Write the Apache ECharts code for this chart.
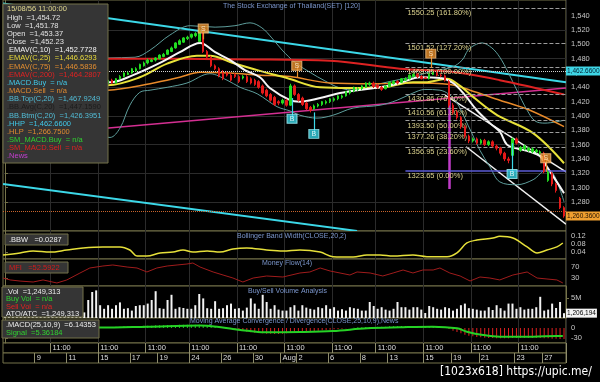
<!DOCTYPE html>
<html><head><meta charset="utf-8">
<script src="https://cdn.jsdelivr.net/npm/echarts@6/dist/echarts.min.js"></script>
<style>html,body{margin:0;padding:0;background:#000;}#c{width:600px;height:382px;}</style>
</head><body><div id="c"></div>
<script>
// ---------------- DATA ----------------
const N = 142;
// [open, close, low, high]
const candles = [
[1448,1445,1444,1449],[1445,1448,1444,1449],[1448,1446,1445,1449],[1446,1450,1445,1451],[1450,1452,1449,1453],
[1452,1449,1448,1453],[1449,1447,1446,1450],[1447,1451,1446,1452],[1451,1454,1450,1455],[1454,1452,1451,1455],
[1452,1450,1449,1453],[1450,1448,1447,1451],[1448,1446,1445,1449],[1446,1444,1443,1447],[1444,1447,1443,1448],
[1447,1449,1446,1450],[1449,1452,1448,1453],[1452,1450,1449,1453],[1450,1448,1447,1451],[1448,1445,1444,1449],
[1445,1443,1442,1446],[1443,1446,1442,1447],[1446,1448,1445,1449],[1448,1450,1447,1451],[1450,1447,1446,1451],
[1447,1445,1444,1448],[1445,1450,1444,1451],[1450,1446,1445,1452],[1446,1452,1445,1453],[1452,1455,1451,1457],
[1455,1460,1454,1461],[1458,1460,1457,1462],[1460,1466,1459,1467],[1463,1466,1462,1468],[1466,1472,1465,1473],
[1470,1474,1469,1476],[1474,1478,1472,1480],[1476,1478,1475,1480],[1478,1481,1476,1482],[1480,1485,1479,1486],
[1483,1486,1482,1488],[1486,1492,1485,1493],[1490,1495,1489,1497],[1495,1502,1494,1503],[1500,1505,1499,1507],
[1503,1509,1502,1510],[1508,1510,1506,1512],[1510,1514,1508,1515],[1512,1515,1510,1517],[1504,1518,1503,1523],
[1516,1490,1488,1518],[1490,1482,1480,1492],[1482,1470,1468,1484],[1470,1466,1464,1472],[1466,1456,1454,1468],
[1460,1452,1450,1464],[1460,1457,1455,1462],[1457,1450,1448,1460],[1458,1455,1453,1460],[1455,1448,1446,1457],
[1453,1455,1451,1457],[1455,1448,1446,1457],[1452,1446,1444,1454],[1450,1444,1442,1452],[1448,1440,1438,1450],
[1442,1432,1430,1444],[1436,1428,1426,1438],[1430,1422,1420,1432],[1426,1416,1414,1428],[1420,1418,1415,1422],
[1418,1422,1416,1424],[1422,1415,1413,1424],[1415,1442,1414,1445],[1442,1430,1428,1444],[1430,1422,1420,1432],
[1425,1416,1414,1427],[1418,1410,1408,1420],[1412,1408,1405,1414],[1410,1414,1408,1416],[1414,1416,1412,1418],
[1416,1420,1414,1421],[1418,1420,1416,1422],[1420,1424,1418,1425],[1422,1424,1420,1426],[1424,1428,1422,1429],
[1426,1428,1424,1430],[1428,1434,1427,1435],[1432,1435,1430,1437],[1435,1440,1433,1441],[1437,1438,1435,1440],
[1438,1442,1436,1443],[1440,1446,1439,1447],[1444,1446,1442,1448],[1446,1441,1439,1448],[1443,1440,1438,1445],
[1440,1437,1435,1442],[1438,1442,1437,1443],[1441,1447,1440,1448],[1445,1448,1444,1450],[1448,1446,1444,1450],
[1447,1452,1446,1453],[1450,1452,1449,1454],[1452,1457,1451,1458],[1455,1458,1454,1460],[1458,1455,1453,1460],
[1455,1452,1451,1457],[1453.37,1452.23,1451.78,1454.72],[1452,1458,1451,1460],[1458,1460,1457,1462],[1460,1457,1455,1462],
[1457,1456,1454,1459],[1456,1450,1448,1458],[1448,1415,1412,1450],[1415,1405,1402,1418],[1405,1398,1395,1408],
[1398,1385,1382,1400],[1385,1372,1369,1387],[1372,1365,1362,1374],[1365,1368,1363,1370],[1368,1362,1360,1370],
[1362,1366,1360,1368],[1366,1360,1358,1368],[1360,1364,1358,1366],[1364,1358,1356,1366],[1358,1355,1352,1360],
[1355,1348,1345,1357],[1348,1340,1337,1350],[1340,1338,1334,1343],[1345,1368,1343,1370],[1368,1362,1360,1370],
[1352,1356,1350,1358],[1354,1358,1352,1360],[1352,1355,1350,1357],[1350,1354,1348,1356],[1350,1352,1348,1354],
[1348,1350,1346,1352],[1348,1322,1320,1350],[1310,1322,1308,1324],[1320,1305,1302,1322],[1305,1296,1293,1307],
[1285,1272,1270,1287],[1272,1260.36,1258,1274]
];
// indicator lines: [barIndex, value]
const ema10 = [[-0.5,1449],[12,1450],[26.5,1447],[32.3,1457],[39.1,1474],[44.1,1489],[49.2,1502],[53,1489],[56.8,1478],[60.5,1464],[64.3,1454],[66.8,1439],[71.9,1422],[74.4,1420],[79.5,1425],[84.5,1432],[88.8,1436],[94.6,1440],[99.6,1446],[104.7,1454],[109.7,1453],[113,1446],[116,1429],[119,1408],[122.3,1390],[124.8,1378],[126.6,1360],[129,1355],[132.4,1350],[134.9,1344],[136.7,1329],[140,1301],[141,1292]];
const ema25 = [[-0.5,1442],[13,1443],[26,1443],[34,1454],[40.9,1473],[48.4,1484],[51.7,1484],[57.5,1474],[64.3,1463],[71.1,1453],[79.5,1440],[87,1439],[95.3,1440],[102.9,1447],[106,1447],[111.5,1452],[114.8,1442],[118,1427],[121.6,1411],[124.8,1399],[133.2,1376],[141,1334]];
const ema75 = [[-0.5,1434],[26,1436],[36.6,1445],[44.1,1454],[49.2,1461],[56.8,1460],[64.3,1457],[71.9,1455],[82,1446],[92.1,1445],[102.1,1446],[112.2,1444],[117.3,1436],[124.8,1422],[132.4,1408],[141,1385]];
const ema200 = [[-0.5,1480],[26,1480],[61.8,1479],[82,1477],[99.6,1466],[112.2,1462],[124.8,1450],[141,1430]];
const bbTop = [[-0.5,1470],[13,1475],[26,1481],[32.8,1482],[36.6,1492],[41.6,1513],[46.7,1526],[53,1524],[58,1526],[61.8,1530],[64.8,1523],[67.3,1509],[69.9,1492],[73.1,1475],[76.9,1461],[80.7,1449],[84.5,1439],[88.3,1436],[95.3,1446],[103.9,1456],[107.9,1463],[112.7,1468],[115.3,1478],[116.8,1492],[118.5,1499],[120.3,1502],[122.8,1495],[124.8,1482],[126.9,1461],[129.1,1436],[131.7,1408],[133.7,1393],[136.2,1390],[141,1394]];
const bbBtm = [[-0.5,1420],[13,1415],[26.5,1370],[29,1383],[31.5,1415],[34,1433],[36.6,1436],[40.9,1440],[45.9,1446],[51.7,1459],[56,1450],[59.3,1440],[63.6,1431],[68.6,1413],[71.9,1407],[74.4,1401],[78.7,1397],[82.7,1401],[87.8,1411],[94.6,1415],[98.9,1422],[102.9,1432],[105.9,1437],[109.7,1436],[113.5,1422],[116.8,1387],[119.8,1352],[122.3,1329],[124.8,1308],[129.1,1304],[133.2,1311],[136.7,1325],[138.2,1320],[140,1297],[141,1280]];
// drawn trend lines
const cyanUpper = [[-0.5,1557],[141.5,1447]];
const cyanLower = [[-0.5,1305],[88.8,1239.5]];
const pinkLine = [[24,1382],[141.5,1439]];
const channelUpper = [[111,1429],[141.5,1322]];
const channelLower = [[116.3,1357],[141.5,1249]];
const fibBar = [[112,1425],[112,1298]];
const fibStart = 101;
const fibLevels = [1550.25,1501.52,1468.35,1430.86,1410.56,1393.50,1377.26,1356.95,1323.65];
const fibPcts = ['161.80%','127.20%','100.00%','76.40%','61.80%','50.00%','38.20%','23.60%','0.00%'];
const hhp = 1462.66, hlp = 1266.75, lastClose = 1260.36, lastVolume = 1.206194;
// signal markers: [barIndex, boxValue, stemEndValue]
const sellMarks = [[50,1522,1507],[73.6,1470,1453],[107.4,1487,1467],[136.4,1341,1322]];
const buyMarks = [[72.4,1396,1425],[77.9,1375,1405],[127.9,1319,1362]];
// lower panels
const bbw = [[-0.5,0.027],[3.8,0.037],[7.1,0.046],[11.4,0.041],[15.6,0.051],[19.7,0.061],[24.7,0.066],[29,0.066],[31.5,0.051],[33.3,0.022],[35.8,0.022],[39.1,0.037],[42.4,0.041],[44.9,0.051],[47.4,0.041],[51,0.046],[54.2,0.041],[57.5,0.056],[61,0.061],[66,0.051],[70.1,0.046],[74.4,0.051],[79.5,0.041],[82.7,0.019],[87.8,0.017],[91.3,0.027],[94.6,0.027],[97.9,0.022],[102.9,0.027],[106.4,0.019],[111.5,0.019],[114,0.037],[116.5,0.085],[119,0.099],[123.1,0.109],[124.8,0.117],[128.1,0.109],[131.7,0.066],[134.2,0.037],[136.7,0.051],[139.2,0.066],[140.7,0.085]];
const mfi = [[-0.5,31],[1.3,24],[3.8,20],[7.1,16.5],[9.6,24],[13.1,13],[15.6,24],[18.9,49],[21.4,67.5],[24.7,74.7],[27.2,78.4],[30.8,71],[33.3,67.5],[35.8,53],[38.3,67.5],[40.9,74.7],[43.4,78.4],[45.9,82],[47.4,85.6],[49.2,71],[52.5,53],[55,42],[57.5,31],[60,16.5],[62.6,31],[66,38.4],[70.1,34.7],[74.4,49.3],[76.9,53],[79.5,67.5],[82,56.5],[84.5,49.3],[87,42],[88.8,53],[92.1,49.3],[95.3,38.4],[97.9,49.3],[100.4,60.2],[102.9,49.3],[105.4,60.2],[108,60.2],[109.7,67.5],[112.2,49.3],[114.8,38.4],[117.3,20.2],[119.8,34.7],[122.3,31],[124.8,24],[128.1,42],[131.7,53],[134.2,31],[136.7,27.5],[139.2,24],[140.7,13]];
const volume = [2.8,3.1,2.4,2.9,3.5,2.2,2.6,3.0,2.7,3.3,2.5,2.9,3.1,2.4,2.8,3.6,2.3,2.7,3.0,2.6,
1.4,4.5,6.5,6.9,3.2,2.3,3.2,2.3,3.2,3.9,
2.3,2.45,1.85,3.0,3.2,3.2,3.6,4.5,6.7,2.45,
2.3,4.5,5.8,2.3,2.7,2.5,2.3,2.3,3.2,6.0,
4.9,2.45,2.3,4.2,2.3,2.45,3.2,3.6,2.3,2.45,
1.85,2.6,4.9,3.6,2.3,5.8,4.0,2.3,3.2,2.1,
1.85,1.85,2.7,3.2,1.85,3.2,2.6,2.3,2.1,2.7,
2.45,3.2,2.3,2.7,1.85,2.2,1.85,2.7,2.45,2.3,
1.85,1.85,4.0,3.0,2.3,2.7,2.1,1.85,2.3,4.0,
2.7,2.7,2.1,2.7,2.7,2.1,1.25,3.0,2.7,2.3,
2.1,2.7,2.45,1.85,2.3,3.2,3.6,2.45,2.3,2.1,
1.85,1.85,2.7,2.0,3.2,2.45,1.85,3.6,3.6,2.3,
2.7,2.1,2.3,2.3,2.7,5.3,1.85,2.1,3.6,2.5,
4.0,1.206194];
const macd = [1,2,2,3,2,1,0,-1,-2,-1,0,1,2,2,1,0,-1,0,1,2,3,2,2,3,2,
2,3,3,4,4,5,5,6,6,6,7,7,7,8,8,8,9,9,9,10,10,10,10,10,10,9,8,7,5,3,1,
-1,-3,-5,-7,-9,-11,-13,-14,-15,-16,-17,-17,-18,-18,-17,-16,-15,-14,-13,-12,-11,-10,-9,-8,-7,-6,-5,-4,-3,-2,-1,0,1,2,2,3,3,3,4,4,4,5,5,5,6,6,6,6,6,6,6.1,6,5,4,3,1,
-3,-8,-12,-16,-20,-23,-25,-27,-28,-29,-30,-30,-31,-31,-31,-31,-30,-30,-30,-30,-30,-30,-30,-30,-31,-31,-32,-32,-33,-33];
const signal = [[-0.5,3],[24,1.5],[35.8,4],[49.2,7.5],[53.5,4],[57.5,-3],[61.8,-9],[66,-13],[74.4,-12],[82.7,-9],[91.3,-1],[99.6,2],[107.9,4],[114,-1],[116.5,-11],[120.6,-21],[124.8,-26],[133.2,-26],[139.2,-24],[140.7,-24]];
// axis ticks / labels
const priceLabels = [1280,1300,1320,1340,1360,1380,1400,1420,1440,1460,1480,1500,1520,1540];
const priceGrid = [1280,1320,1360,1400,1440,1480,1520];
const bbwLabels = [0.04,0.08,0.12];
const mfiLabels = [30,70];
const volLabels = [5];
const macdLabels = [-30,0];
const hourTicks = [12,24,36,47,59,71,83,94,106,118,130];
const hourText = '11:00';
const dateTicks = [8,16,24,32,39,47,55,63,70,74,82,90,97,106,113,120,129,136];
const dateLabels = ['9','11','15','17','19','24','26','30','Aug','2','6','8','13','15','19','21','23','27'];

// ---------------- CHART ----------------
const FONT = '"Liberation Sans", Arial, sans-serif';
const OL = '#75734a', GRIDC = '#2b2b2b', AXT = '#c6c6c6';
const idx = Array.from({length:N},(_,i)=>String(i));
const hourSet = new Set(hourTicks);
const dateSet = new Set(dateTicks);
const hourData = idx.map((_,i)=>hourSet.has(i)?hourText:'');
const dateData = idx.map((_,i)=>{const k=dateTicks.indexOf(i);return k>=0?dateLabels[k]:'';});

const gb = [[0,231],[231,259],[259,286],[286,318],[318,343],[343,353],[353,363]];
const grid = gb.map(b=>({left:3,right:34,top:b[0],height:b[1]-b[0],show:true,borderColor:OL,borderWidth:1,backgroundColor:'#000',containLabel:false,outerBoundsMode:'none'}));

const catAx = g=>({type:'category',gridIndex:g,data:idx,boundaryGap:true,axisLine:{show:false},axisTick:{show:false},axisLabel:{show:false},
  splitLine:{show:true,interval:(i)=>hourSet.has(i),lineStyle:{color:GRIDC,width:1}}});
const valAx = g=>({type:'value',gridIndex:g,min:-0.5,max:N-0.5,show:false});
const timeAx = (g,data,set)=>({type:'category',gridIndex:g,data:data,boundaryGap:true,axisLine:{show:false},axisTick:{show:false},
  splitLine:{show:true,interval:(i)=>set.has(i),lineStyle:{color:'#8e8c6c',width:1}},
  axisLabel:{interval:0,inside:true,margin:1,align:'left',color:'#dedede',fontSize:7.5,fontFamily:FONT}});

const yAx = (g,min,max,labels,fmt)=>({type:'value',gridIndex:g,position:'right',min:min,max:max,
  axisLine:{show:true,lineStyle:{color:OL}},axisTick:{show:true,length:3,lineStyle:{color:OL},customValues:labels},
  axisLabel:{customValues:labels,formatter:fmt,color:AXT,fontSize:7.5,margin:5,fontFamily:FONT},splitLine:{show:false}});

const line = (name,data,color,width,xi,yi,smooth)=>({type:'line',name:name,data:data,xAxisIndex:xi,yAxisIndex:yi,showSymbol:false,symbol:'none',
  smooth:smooth===undefined?0.35:smooth,lineStyle:{color:color,width:width},silent:true,z:4});
const seg = (coords,color,width)=>({coords:coords,lineStyle:{color:color,width:width,opacity:1}});

const fibMark = fibLevels.map((v,k)=>[
  {coord:[fibStart,v],lineStyle:k===fibLevels.length-1?{color:'#5b5bd6',type:'solid',width:1.5}:{color:'#9c9c9c',type:'dashed',width:1},
   label:{show:true,position:'insideStartBottom',distance:[2,1],formatter:v.toFixed(2)+' ('+fibPcts[k]+')',color:'#d9d08c',fontSize:7.5,fontFamily:FONT}},
  {coord:[N-0.5,v]}]);

const tag = (text,bg,fg)=>({show:true,position:'end',distance:0,formatter:text,backgroundColor:bg,color:fg,opacity:1,fontSize:6.5,fontFamily:FONT,padding:[1,1]});
const HIDDEN = {color:'rgba(0,0,0,0)',width:1,type:'solid'};

const txt = (x,y,t,c,fs)=>({type:'text',x:x,y:y,z:101,style:{text:t,fill:c,font:(fs||7.5)+'px '+FONT,verticalAlign:'middle'}});
const box = (x,y,w,h)=>({type:'rect',z:100,shape:{x:x,y:y,width:w,height:h},style:{fill:'#353535',stroke:OL,lineWidth:1}});

const infoLines = [
 ['15/08/56 11:00:00','#e2d98f'],['High  =1,454.72','#e4e4e4'],['Low  =1,451.78','#e4e4e4'],['Open  =1,453.37','#e4e4e4'],['Close  =1,452.23','#e4e4e4'],
 ['.EMAV(C,10)  =1,452.7728','#f2f2f2'],['.EMAV(C,25)  =1,446.6293','#e8da3c'],['.EMAV(C,75)  =1,446.5836','#e28d30'],['.EMAV(C,200)  =1,464.2807','#e02222'],
 ['.MACD.Buy  = n/a','#40c8e8'],['.MACD.Sell  = n/a','#e08a30'],['.BB.Top(C,20)  =1,467.9249','#52bcd6'],['.BB.Avg(C,20)  =1,447.1590','#1c1c1c'],
 ['.BB.Btm(C,20)  =1,426.3951','#52bcd6'],['.HHP  =1,462.6600','#40c8e8'],['.HLP  =1,266.7500','#e08a30'],['.SM_MACD.Buy  = n/a','#30d030'],
 ['.SM_MACD.Sell  = n/a','#e02222'],['.News','#c43ed0']];

const graphics = [
  box(3,4,105,159),
  ...infoLines.map((l,k)=>txt(7,9.3+k*8.17,l[0],l[1])),
  txt(223,6,'The Stock Exchange of Thailand(SET) [120]','#7b96cc',7),
  box(5,234,63,11), txt(9,239.5,'.BBW   =0.0287','#ececec'),
  txt(237,236,'Bollinger Band Width(CLOSE,20,2)','#7b96cc',7),
  box(5,262,63,11), txt(9,267.5,'MFI   =52.5922','#d21c1c'),
  txt(262,263,'Money Flow(14)','#7b96cc',7),
  box(2,287,81,30), txt(6,291.5,'.Vol  =1,249,313','#ececec'), txt(6,299,'Buy Vol  = n/a','#30d030'),
  txt(6,306.5,'Sell Vol  = n/a','#e02222'), txt(6,314,'ATO/ATC  =1,249,313','#ececec'),
  txt(248,291,'Buy/Sell Volume Analysis','#7b96cc',7),
  box(2,320,97,18), txt(6,324.5,'.MACD(25,10,9)  =6.14353','#ececec'), txt(6,332.5,'Signal  =5.36184','#30d030'),
  txt(190,321,'Moving Average Convergence / Divergence(CLOSE,25,10,9),News','#7b96cc',7),
  {type:'text',x:440,y:372,z:101,style:{text:'[1023x618] https://upic.me/',fill:'#ffffff',font:'12px "Liberation Sans Narrow", "DejaVu Sans Condensed", "Liberation Sans", sans-serif',verticalAlign:'middle'}}
];

const option = {
  backgroundColor:'#000',
  animation:false,
  grid:grid,
  xAxis:[catAx(0),valAx(0),catAx(1),valAx(1),catAx(2),valAx(2),catAx(3),catAx(4),valAx(4),
         timeAx(5,hourData,hourSet),timeAx(6,dateData,dateSet)],
  yAxis:[
    yAx(0,1239.4,1561.9,priceLabels,v=>v.toLocaleString('en-US')),
    {type:'value',gridIndex:0,position:'left',min:1239.4,max:1561.9,axisLine:{show:false},axisLabel:{show:false},
     axisTick:{show:true,length:0,lineStyle:{opacity:0},customValues:priceGrid},splitLine:{show:true,lineStyle:{color:GRIDC,width:1}}},
    yAx(1,0.0077,0.1427,bbwLabels,v=>v.toFixed(2)),
    yAx(2,2,100.2,mfiLabels,v=>String(v)),
    yAx(3,0,8,volLabels,v=>v+'M'),
    yAx(4,-45,30,macdLabels,v=>String(v)),
    {type:'value',gridIndex:5,show:false},
    {type:'value',gridIndex:6,show:false}
  ],
  series:[
    {type:'lines',coordinateSystem:'cartesian2d',xAxisIndex:1,yAxisIndex:0,silent:true,z:3,
     data:[seg(cyanUpper,'#3cd8e8',2),seg(cyanLower,'#3cd8e8',2),seg(pinkLine,'#d42f92',1.5),
           seg(channelUpper,'#f2f2f2',1.5),seg(channelLower,'#f2f2f2',1.5),seg(fibBar,'#c03cc8',2.5)]},
    {type:'line',xAxisIndex:1,yAxisIndex:0,data:[],silent:true,z:3,
     markLine:{symbol:['none','none'],silent:true,animation:false,data:[
       ...fibMark,
       {yAxis:hhp,lineStyle:{color:'#d0d0d0',type:'dotted',width:1},label:tag('1,462.6600','#3fd6e6','#002030')},
       {yAxis:hlp,lineStyle:{color:'#c8642c',type:'dotted',width:1},label:{show:false}}
     ]}},
    line('bbTop',bbTop,'#5e9e9c',1,1,0),
    line('bbBtm',bbBtm,'#5e9e9c',1,1,0),
    line('ema200',ema200,'#dd2222',2,1,0),
    line('ema75',ema75,'#e88a2a',1.5,1,0),
    line('ema25',ema25,'#e8e23a',2,1,0),
    line('ema10',ema10,'#f6f6f6',2,1,0),
    {type:'candlestick',xAxisIndex:0,yAxisIndex:0,data:candles,barWidth:2,silent:true,z:5,
     itemStyle:{color:'#22dd22',color0:'#e51a1a',borderColor:'#22dd22',borderColor0:'#e51a1a',borderWidth:1},
     markLine:{symbol:['none','none'],silent:true,animation:false,data:[{yAxis:lastClose,lineStyle:HIDDEN,label:tag('1,260.3600','#f0a030','#201000')}]}},
    {type:'lines',coordinateSystem:'cartesian2d',xAxisIndex:1,yAxisIndex:0,silent:true,z:6,
     data:[...sellMarks.map(m=>seg([[m[0],m[1]],[m[0],m[2]]],'#e8902c',1.2)),...buyMarks.map(m=>seg([[m[0],m[1]],[m[0],m[2]]],'#3cd8e8',1.2))]},
    {type:'scatter',xAxisIndex:1,yAxisIndex:0,silent:true,z:7,data:sellMarks.map(m=>[m[0],m[1]]),symbol:'rect',symbolSize:[10,9],
     itemStyle:{color:'#e8902c',borderColor:'#f8c080',borderWidth:1},label:{show:true,position:'inside',formatter:'S',color:'#fff3dd',fontSize:7,fontFamily:FONT}},
    {type:'scatter',xAxisIndex:1,yAxisIndex:0,silent:true,z:7,data:buyMarks.map(m=>[m[0],m[1]]),symbol:'rect',symbolSize:[10,9],
     itemStyle:{color:'#36d2e2',borderColor:'#a0f0f8',borderWidth:1},label:{show:true,position:'inside',formatter:'B',color:'#ffffff',fontSize:7,fontFamily:FONT}},
    line('bbw',bbw,'#e6e03a',1.5,3,2),
    line('mfi',mfi,'#a01c1c',1,5,3,false),
    {type:'bar',xAxisIndex:6,yAxisIndex:4,data:volume,barWidth:2,silent:true,itemStyle:{color:'#f2f2f2'},
     markLine:{symbol:['none','none'],silent:true,animation:false,data:[{yAxis:lastVolume,lineStyle:HIDDEN,label:tag('1,206,194','#f4f4f4','#000')}]}},
    {type:'bar',xAxisIndex:7,yAxisIndex:5,data:macd,barWidth:1,silent:true,
     itemStyle:{color:(p)=>p.value>=0?'#22c622':'#e02020'}},
    line('signal',signal,'#26d226',2,8,5)
  ],
  graphic:{elements:graphics}
};
const chart = echarts.init(document.getElementById('c'));
chart.setOption(option);
</script></body></html>
